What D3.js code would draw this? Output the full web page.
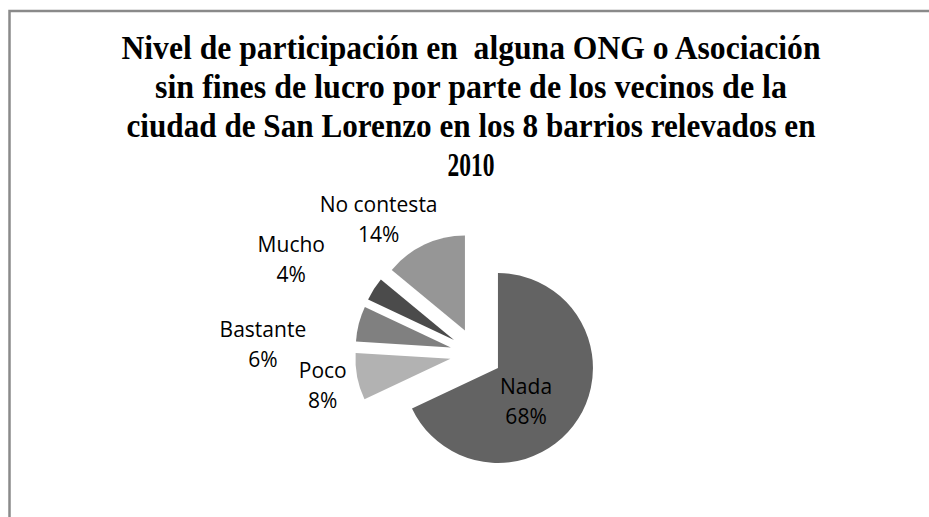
<!DOCTYPE html>
<html>
<head>
<meta charset="utf-8">
<script src="https://cdn.jsdelivr.net/npm/d3@7"></script>
<style>
  body { margin: 0; background: #fff; }
</style>
</head>
<body>
<script>
var categories = ['Nada', 'Poco', 'Bastante', 'Mucho', 'No contesta'];
var values = [68, 8, 6, 4, 14];
var labels = ['68%', '8%', '6%', '4%', '14%'];
var titleLines = [
  'Nivel de participación en  alguna ONG o Asociación',
  'sin fines de lucro por parte de los vecinos de la',
  'ciudad de San Lorenzo en los 8 barrios relevados en',
  '2010'
];

var w = 929, h = 517;
var cx = 476, cy = 354, r = 95, explode = 26;

var colors = {'Nada': '#636363', 'Poco': '#b2b2b2', 'Bastante': '#808080',
              'Mucho': '#4b4b4b', 'No contesta': '#969696'};
// label nudges (Excel moves the outside labels around a bit)
var nudge = {'Nada': [-12, 9], 'Poco': [0, 3], 'Bastante': [-62, 30],
             'Mucho': [-53, -10], 'No contesta': [-31, 7]};

var svg = d3.select('body').append('svg')
  .attr('width', w).attr('height', h);

svg.append('rect').attr('width', w).attr('height', h).attr('fill', 'white');

// chart frame, only left and top edges are visible
svg.append('path')
  .attr('d', 'M9.5,' + h + 'V11H' + w)
  .attr('fill', 'none')
  .attr('stroke', '#8a8a8a')
  .attr('stroke-width', 2.5);

var title = svg.append('text')
  .attr('text-anchor', 'middle')
  .attr('xml:space', 'preserve')
  .style('white-space', 'pre')
  .style('font-family', '"Liberation Serif", "Times New Roman", serif')
  .style('font-weight', 'bold')
  .style('font-size', '33px')
  .attr('fill', '#000');

var titleWidths = [699, 632, 689, 47];
titleLines.forEach(function(t, i){
  title.append('tspan')
    .attr('x', 471)
    .attr('y', 59 + i * 39)
    .attr('textLength', titleWidths[i])
    .attr('lengthAdjust', 'spacingAndGlyphs')
    .text(t);
});

var data = categories.map(function(c, i){
  return {cat: c, value: values[i], label: labels[i]};
});

var pie = d3.pie().sort(null).value(function(d){ return d.value; });
var arc = d3.arc().innerRadius(0).outerRadius(r);

var arcs = pie(data);

var g = svg.append('g').attr('transform', 'translate(' + cx + ',' + cy + ')');

function dir(d){
  var a = (d.startAngle + d.endAngle) / 2;
  return [Math.sin(a), -Math.cos(a)];
}

g.selectAll('path.slice')
  .data(arcs)
  .enter()
  .append('path')
  .attr('class', 'slice')
  .attr('d', arc)
  .attr('transform', function(d){
    var v = dir(d);
    return 'translate(' + v[0] * explode + ',' + v[1] * explode + ')';
  })
  .attr('fill', function(d){ return colors[d.data.cat]; });

var lab = g.selectAll('text.lbl')
  .data(arcs)
  .enter()
  .append('text')
  .attr('class', 'lbl')
  .attr('text-anchor', 'middle')
  .style('font-family', '"Open Sans", Calibri, sans-serif')
  .style('font-size', '21px')
  .attr('fill', '#000')
  .attr('transform', function(d){
    var v = dir(d);
    var rr = d.data.cat === 'Nada' ? explode + r / 2 : 156;
    var n = nudge[d.data.cat];
    return 'translate(' + (v[0] * rr + n[0]) + ',' + (v[1] * rr + n[1]) + ')';
  });

lab.append('tspan').attr('x', 0).attr('y', -8).text(function(d){ return d.data.cat; });
lab.append('tspan').attr('x', 0).attr('y', 22).text(function(d){ return d.data.label; });
</script>
</body>
</html>
